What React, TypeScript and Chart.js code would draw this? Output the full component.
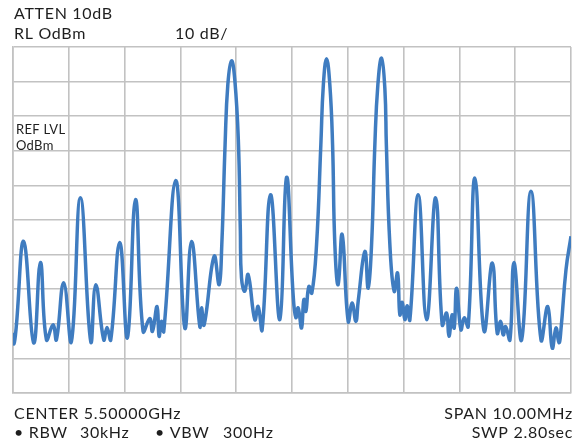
import React, { useEffect, useRef } from "react";
import { Chart, registerables } from "chart.js";

Chart.register(...registerables);

// Frequency offset from center (MHz), span 10 MHz
const freqOffsetsMHz: number[] = [
  -5.0, -4.982, -4.943, -4.808, -4.629, -4.509, -4.401, -4.283, -4.222, -4.091,
  -3.953, -3.792, -3.607, -3.517, -3.374, -3.315, -3.248, -3.087, -2.949, -2.805,
  -2.669, -2.549, -2.501, -2.418, -2.382, -2.339, -2.298, -2.083, -1.921, -1.801,
  -1.652, -1.622, -1.575, -1.396, -1.306, -1.258, -1.199, -1.15, -1.084, -1.025,
  -0.962, -0.926, -0.905, -0.846, -0.786, -0.666, -0.607, -0.535, -0.385, -0.218,
  -0.098, 0.02, 0.069, 0.11, 0.171, 0.212, 0.248, 0.302, 0.356, 0.44,
  0.517, 0.562, 0.619, 0.678, 0.727, 0.768, 0.827, 0.899, 1.007, 1.078,
  1.145, 1.186, 1.306, 1.365, 1.426, 1.485, 1.539, 1.605, 1.665, 1.691,
  1.754, 1.831, 1.892, 1.933, 1.975, 2.023, 2.064, 2.113, 2.262, 2.412,
  2.574, 2.692, 2.771, 2.812, 2.871, 2.907, 2.95, 3.027, 3.086, 3.158,
  3.278, 3.44, 3.589, 3.678, 3.739, 3.786, 3.829, 3.906, 3.978, 4.116,
  4.282, 4.462, 4.582, 4.664, 4.731, 4.784, 4.82, 4.91, 5.0,
];

// Measured level (dBm)
const levelsDbm: number[] = [
  -82.6, -85.8, -81.1, -56.2, -85.5, -62.3, -84.6, -80.3, -84.6, -68.1,
  -85.1, -43.6, -85.1, -68.7, -84.6, -81.1, -84.6, -56.5, -84.0, -44.1,
  -82.2, -78.5, -82.2, -75.0, -83.6, -79.3, -82.2, -38.6, -81.2, -56.2,
  -80.8, -75.4, -80.3, -60.5, -68.7, -57.1, -28.2, -10.9, -4.0, -9.5,
  -26.8, -52.8, -66.7, -70.6, -65.8, -78.8, -75.0, -81.7, -42.7, -78.8,
  -37.7, -71.6, -78.2, -75.4, -81.2, -73.0, -76.4, -69.2, -71.1, -57.1,
  -28.2, -10.9, -3.4, -10.9, -28.2, -57.1, -68.7, -54.2, -79.3, -74.0,
  -79.3, -73.5, -59.1, -69.7, -57.1, -28.2, -10.9, -3.2, -12.3, -28.2,
  -57.1, -70.6, -65.3, -77.4, -73.8, -78.8, -74.8, -78.8, -42.7, -78.8,
  -43.6, -80.3, -76.9, -83.6, -77.4, -81.2, -69.7, -81.7, -78.3, -80.8,
  -37.9, -82.0, -62.4, -82.7, -79.3, -83.2, -80.8, -84.6, -62.3, -84.6,
  -41.7, -84.6, -75.0, -87.0, -81.2, -85.5, -81.7, -64.4, -54.7,
];

const headerLines: string[] = ["ATTEN 10dB", "RL OdBm", "10 dB/"];
const refLabel: string[] = ["REF LVL", "OdBm"];
const footerLeft: string[] = ["CENTER 5.50000GHz", "• RBW", "30kHz", "• VBW", "300Hz"];
const footerRight: string[] = ["SPAN 10.00MHz", "SWP 2.80sec"];

const FONT = "Lato, 'Noto Sans', sans-serif";
const TEXT_COLOR = "#1e1e1e";

export default function App() {
  const canvasRef = useRef<HTMLCanvasElement | null>(null);

  useEffect(() => {
    if (!canvasRef.current) return;
    const textPlugin = {
      id: "annotText",
      afterDraw(chart: any) {
        const ctx = chart.ctx as any;
        ctx.save();
        ctx.fillStyle = TEXT_COLOR;
        ctx.textBaseline = "alphabetic";
        ctx.textAlign = "left";
        ctx.font = `16px ${FONT}`;
        ctx.letterSpacing = "0.7px";
        ctx.fillText(headerLines[0], 14, 18.5);
        ctx.fillText(headerLines[1], 14, 38.5);
        ctx.fillText(headerLines[2], 175, 38.5);
        ctx.fillText(footerLeft[0], 14, 418.5);
        ctx.fillText(footerLeft[1], 14, 437.5);
        ctx.fillText(footerLeft[2], 80, 437.5);
        ctx.fillText(footerLeft[3], 155, 437.5);
        ctx.fillText(footerLeft[4], 223, 437.5);
        ctx.textAlign = "right";
        ctx.fillText(footerRight[0], 573, 418.5);
        ctx.fillText(footerRight[1], 573, 437.5);
        ctx.textAlign = "left";
        ctx.font = `13px ${FONT}`;
        ctx.letterSpacing = "0.3px";
        ctx.fillText(refLabel[0], 16, 133.5);
        ctx.fillText(refLabel[1], 16, 149.5);
        ctx.restore();
      },
    };

    const chart = new Chart(canvasRef.current, {
      type: "line",
      data: {
        datasets: [
          {
            data: freqOffsetsMHz.map((f, i) => ({ x: f, y: levelsDbm[i] })),
            borderColor: "#3f7cc0",
            borderWidth: 3.5,
            pointRadius: 0,
            fill: false,
            tension: 0.45,
            borderJoinStyle: "round",
          },
        ],
      },
      options: {
        animation: false,
        responsive: false,
        maintainAspectRatio: false,
        layout: { padding: { left: 13, right: 9, top: 47, bottom: 50 } },
        plugins: { legend: { display: false }, tooltip: { enabled: false } },
        scales: {
          x: {
            type: "linear",
            min: -5,
            max: 5,
            ticks: { display: false, stepSize: 1 },
            grid: { color: "#c2c2c2", lineWidth: 1.6, drawTicks: false },
            border: { display: true, color: "#c2c2c2", width: 1.6 },
          },
          y: {
            type: "linear",
            min: -100,
            max: 0,
            ticks: { display: false, stepSize: 10 },
            grid: { color: "#c2c2c2", lineWidth: 1.6, drawTicks: false },
            border: { display: true, color: "#c2c2c2", width: 1.6 },
          },
        },
      },
      plugins: [textPlugin],
    } as any);
    return () => chart.destroy();
  }, []);

  return (
    <div style={{ position: "absolute", left: 0, top: 0, width: 580, height: 443, background: "#fff" }}>
      <canvas ref={canvasRef} width={580} height={443} style={{ width: 580, height: 443, display: "block" }} />
    </div>
  );
}
